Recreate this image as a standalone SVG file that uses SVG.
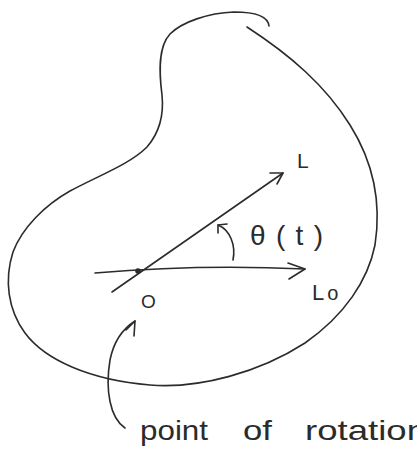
<svg xmlns="http://www.w3.org/2000/svg" width="417" height="458" viewBox="0 0 417 458">
  <style>
    .ink { fill: none; stroke: #2b2b2b; stroke-width: 1.6; stroke-linecap: round; stroke-linejoin: round; }
    .lbl { font-family: "Liberation Sans", "DejaVu Sans", sans-serif; fill: #2b2b2b; }
  </style>
  <rect width="417" height="458" fill="#ffffff"/>
  <g id="region">
    <path class="ink" d="M269,26 C268,16 255,12 234,12 C208,13 182,22 170,34 C158,47 159,72 162,95 C164,115 160,132 147,147 C130,164 100,175 70,191 C45,205 22,228 13,252 C4,280 8,310 25,333 C45,360 90,380 150,385 C200,389 260,372 305,343 C345,315 368,280 375,245 C382,200 372,160 350,125 C325,85 290,55 247,27"/>
  </g>
  <g id="connectors">
    <g id="line-L0">
      <path class="ink" d="M95,273 Q200,264 305,269"/>
      <path class="ink" d="M288,263 L305,269 L289,279"/>
    </g>
    <g id="line-L">
      <path class="ink" d="M112,292 L283,173"/>
      <path class="ink" d="M270,173 L283,173 L277,184"/>
    </g>
    <g id="angle-arrow">
      <path class="ink" d="M233,260 C236,245 230,230 218,225"/>
      <path class="ink" d="M218,233 L218,225 L227,224"/>
    </g>
    <g id="pointer-arrow">
      <path class="ink" d="M125,428 C110,418 105,390 110,360 C114,340 124,328 135,321"/>
      <path class="ink" d="M126,330 L135,321 L134,336"/>
    </g>
  </g>
  <g id="point-O">
    <circle cx="138" cy="271" r="2.8" fill="#2b2b2b"/>
    <text class="lbl" x="141" y="308" font-size="19">O</text>
  </g>
  <g id="label-L">
    <text class="lbl" x="297" y="168" font-size="21">L</text>
  </g>
  <g id="label-theta">
    <text class="lbl" x="250" y="245" font-size="28" textLength="73" lengthAdjust="spacing">θ(t)</text>
  </g>
  <g id="label-L0">
    <text class="lbl" x="312" y="300" font-size="22">L<tspan dx="3" font-size="20">o</tspan></text>
  </g>
  <g id="label-point">
    <text class="lbl" font-size="28" y="440"><tspan x="140" textLength="68" lengthAdjust="spacingAndGlyphs">point</tspan> <tspan x="243" textLength="29" lengthAdjust="spacingAndGlyphs">of</tspan> <tspan x="305" textLength="122" lengthAdjust="spacingAndGlyphs">rotation</tspan></text>
  </g>
</svg>
